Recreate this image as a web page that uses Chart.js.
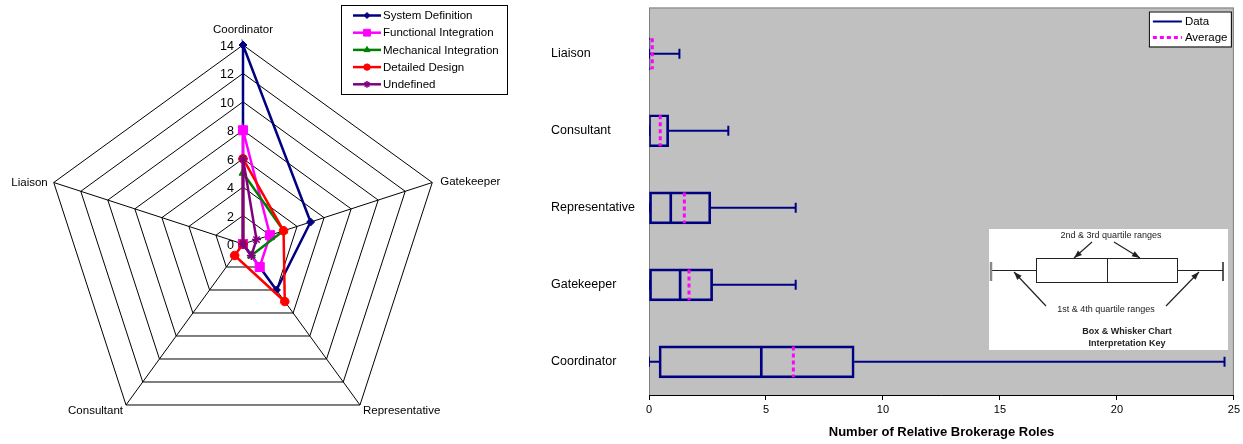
<!DOCTYPE html>
<html>
<head>
<meta charset="utf-8">
<script src="https://cdn.jsdelivr.net/npm/chart.js@4/dist/chart.umd.min.js"></script>
<style>
html, body { margin: 0; padding: 0; background: #fff; }
#wrap { position: relative; width: 1243px; height: 444px; }
#radar { position: absolute; left: 0; top: 0; }
#box { position: absolute; left: 540px; top: 0; }
</style>
</head>
<body>
<div id="wrap">
<canvas id="radar" width="540" height="444"></canvas>
<canvas id="box" width="703" height="444"></canvas>
</div>
<script>
// ---- radar data ----
const axes = ['Coordinator', 'Gatekeeper', 'Representative', 'Consultant', 'Liaison'];
const radarTicks = [0, 2, 4, 6, 8, 10, 12, 14];
const sysDef = [14, 5, 4, 0, 0];
const funcInt = [8, 2, 2, 0, 0];
const mechInt = [5, 3, 1, 0, 0];
const detDesign = [6, 3, 5, 1, 0];
const undef = [6, 1, 1, 0, 0];
const seriesNames = ['System Definition', 'Functional Integration', 'Mechanical Integration', 'Detailed Design', 'Undefined'];

// ---- box plot data (index 0 = bottom row) ----
const roles = ['Coordinator', 'Gatekeeper', 'Representative', 'Consultant', 'Liaison'];
const minVals = [0, 0, 0, 0, 0];
const q1Vals = [0.43, 0, 0, 0, 0];
const medianVals = [4.8, 1.33, 0.93, 0, 0];
const q3Vals = [8.77, 2.72, 2.64, 0.84, 0.05];
const maxVals = [24.6, 6.27, 6.27, 3.39, 1.3];
const avgVals = [6.17, 1.71, 1.51, 0.48, 0.14];
const xTicks = [0, 5, 10, 15, 20, 25];
const xTitle = 'Number of Relative Brokerage Roles';
const boxLegend = ['Data', 'Average'];

const fam = "'Liberation Sans', Arial, sans-serif";
Chart.defaults.font.family = fam;
Chart.defaults.color = '#000';

const navy = '#000080';
const styles = [
  { color: '#000080', pointStyle: 'rectRot', r: 4 },
  { color: '#FF00FF', pointStyle: 'rect', r: 6.4 },
  { color: '#008000', pointStyle: 'triangle', r: 4.6 },
  { color: '#FF0000', pointStyle: 'circle', r: 4.3 },
  { color: '#800080', pointStyle: 'star', r: 4.5 }
];
const series = [sysDef, funcInt, mechInt, detDesign, undef];

function mark(ctx, st, r, x, y) {
  ctx.fillStyle = st.color;
  ctx.strokeStyle = st.color;
  ctx.lineWidth = st.pointStyle === 'star' ? 1.5 : 1;
  Chart.helpers.drawPoint(ctx, { pointStyle: st.pointStyle, radius: r, rotation: 0, borderWidth: 1 }, x, y);
}

const radarText = {
  id: 'radarText',
  afterDraw(chart) {
    const ctx = chart.ctx, s = chart.scales.r;
    ctx.save();
    ctx.fillStyle = '#000';
    ctx.textBaseline = 'middle';
    ctx.font = '12.5px ' + fam;
    ctx.textAlign = 'right';
    radarTicks.forEach(v => {
      ctx.fillText(String(v), s.xCenter - 9, s.yCenter - s.getDistanceFromCenterForValue(v) + 1.5);
    });
    // axis names
    ctx.font = '11.5px ' + fam;
    const place = [
      { dx: 0, dy: -15, al: 'center' },
      { dx: 8, dy: -1, al: 'left' },
      { dx: 3, dy: 6, al: 'left' },
      { dx: -3, dy: 6, al: 'right' },
      { dx: -6, dy: 0, al: 'right' }
    ];
    axes.forEach((name, i) => {
      const p = s.getPointPosition(i, s.drawingArea);
      ctx.textAlign = place[i].al;
      ctx.fillText(name, p.x + place[i].dx, p.y + place[i].dy);
    });
    // legend
    const lx = 341, ly = 5, lw = 166, lh = 89;
    ctx.fillStyle = '#fff';
    ctx.fillRect(lx, ly, lw, lh);
    ctx.strokeStyle = '#000';
    ctx.lineWidth = 1;
    ctx.strokeRect(lx + 0.5, ly + 0.5, lw, lh);
    seriesNames.forEach((name, i) => {
      const y = ly + 10.5 + i * 17.2;
      const st = styles[i];
      ctx.strokeStyle = st.color;
      ctx.lineWidth = 2.5;
      ctx.beginPath();
      ctx.moveTo(lx + 12, y);
      ctx.lineTo(lx + 40, y);
      ctx.stroke();
      mark(ctx, st, st.r * 0.75, lx + 26, y);
      ctx.fillStyle = '#000';
      ctx.textAlign = 'left';
      ctx.fillText(name, lx + 42, y + 0.5);
    });
    ctx.restore();
  }
};

new Chart(document.getElementById('radar'), {
  type: 'radar',
  data: {
    labels: axes,
    datasets: series.map((d, i) => ({
      label: seriesNames[i],
      data: d,
      borderColor: styles[i].color,
      backgroundColor: styles[i].color,
      pointBackgroundColor: styles[i].color,
      pointBorderColor: styles[i].color,
      pointStyle: styles[i].pointStyle,
      pointRadius: styles[i].r,
      pointBorderWidth: i === 4 ? 1.5 : 1,
      borderWidth: 2.5,
      fill: false,
      order: 5 - i
    }))
  },
  options: {
    responsive: false,
    animation: false,
    layout: { padding: { left: 44, top: 45, right: 98, bottom: 1 } },
    plugins: { legend: { display: false }, tooltip: { enabled: false } },
    elements: { line: { tension: 0 } },
    scales: {
      r: {
        min: 0, max: 14,
        ticks: { display: false, stepSize: 2 },
        pointLabels: { display: false },
        grid: { color: '#000', lineWidth: 1 },
        angleLines: { color: '#000', lineWidth: 1 }
      }
    }
  },
  plugins: [radarText]
});

// ---- box plot ----
const lowerBox = roles.map((r, i) => ({ x: [q1Vals[i], medianVals[i]], y: i }));
const upperBox = roles.map((r, i) => ({ x: [medianVals[i], q3Vals[i]], y: i }));
const gap = { x: null, y: null };
const whiskers = [];
const caps = [];
const avgLines = [];
roles.forEach((r, i) => {
  whiskers.push({ x: minVals[i], y: i }, { x: q1Vals[i], y: i }, gap, { x: q3Vals[i], y: i }, { x: maxVals[i], y: i }, gap);
  caps.push({ x: minVals[i], y: i }, { x: maxVals[i], y: i });
  avgLines.push({ x: avgVals[i], y: i + 0.2 }, { x: avgVals[i], y: i - 0.2 }, gap);
});

function arrow(ctx, x1, y1, x2, y2) {
  ctx.beginPath();
  ctx.moveTo(x1, y1);
  ctx.lineTo(x2, y2);
  ctx.stroke();
  const a = Math.atan2(y2 - y1, x2 - x1);
  ctx.beginPath();
  ctx.moveTo(x2, y2);
  ctx.lineTo(x2 - 8 * Math.cos(a) + 3 * Math.sin(a), y2 - 8 * Math.sin(a) - 3 * Math.cos(a));
  ctx.lineTo(x2 - 8 * Math.cos(a) - 3 * Math.sin(a), y2 - 8 * Math.sin(a) + 3 * Math.cos(a));
  ctx.closePath();
  ctx.fill();
}

const boxDeco = {
  id: 'boxDeco',
  beforeDraw(chart) {
    const { ctx, chartArea: a } = chart;
    ctx.save();
    ctx.fillStyle = '#C0C0C0';
    ctx.fillRect(a.left, a.top, a.right - a.left, a.bottom - a.top);
    ctx.strokeStyle = '#808080';
    ctx.lineWidth = 1;
    ctx.strokeRect(a.left + 0.5, a.top + 0.5, a.right - a.left - 1, a.bottom - a.top);
    ctx.restore();
  },
  afterDraw(chart) {
    const { ctx, chartArea: a } = chart;
    ctx.save();
    // legend
    const R = a.right - 3, L = R - 82, T = a.top + 4;
    ctx.fillStyle = '#fff';
    ctx.fillRect(L, T, 82, 35);
    ctx.strokeStyle = '#000';
    ctx.lineWidth = 1;
    ctx.strokeRect(L + 0.5, T + 0.5, 82, 35);
    ctx.strokeStyle = navy;
    ctx.lineWidth = 2;
    ctx.beginPath(); ctx.moveTo(L + 4, T + 10); ctx.lineTo(L + 33, T + 10); ctx.stroke();
    ctx.strokeStyle = '#FF00FF';
    ctx.lineWidth = 3;
    ctx.setLineDash([4, 3]);
    ctx.beginPath(); ctx.moveTo(L + 4, T + 26); ctx.lineTo(L + 33, T + 26); ctx.stroke();
    ctx.setLineDash([]);
    ctx.fillStyle = '#000';
    ctx.font = '11.5px ' + fam;
    ctx.textAlign = 'left';
    ctx.textBaseline = 'middle';
    ctx.fillText(boxLegend[0], L + 36, T + 10);
    ctx.fillText(boxLegend[1], L + 36, T + 26);

    // interpretation key
    const kx = 449, ky = 229;
    ctx.translate(kx, ky);
    ctx.fillStyle = '#fff';
    ctx.fillRect(0, 0, 239, 121);
    ctx.fillStyle = '#222';
    ctx.strokeStyle = '#222';
    ctx.textAlign = 'center';
    ctx.font = '9px ' + fam;
    ctx.fillText('2nd & 3rd quartile ranges', 122, 7);
    ctx.fillText('1st & 4th quartile ranges', 117, 81);
    ctx.font = 'bold 9px ' + fam;
    ctx.fillText('Box & Whisker Chart', 138, 103);
    ctx.fillText('Interpretation Key', 138, 115);
    ctx.lineWidth = 1;
    ctx.beginPath();
    ctx.moveTo(1, 41.5); ctx.lineTo(47, 41.5);
    ctx.moveTo(188, 41.5); ctx.lineTo(234, 41.5);
    ctx.stroke();
    ctx.strokeRect(47.5, 29.5, 141, 24);
    ctx.beginPath(); ctx.moveTo(118.5, 29.5); ctx.lineTo(118.5, 53.5); ctx.stroke();
    ctx.lineWidth = 2.5;
    ctx.strokeStyle = '#888';
    ctx.beginPath(); ctx.moveTo(2, 33); ctx.lineTo(2, 52); ctx.stroke();
    ctx.strokeStyle = '#222';
    ctx.lineWidth = 1.5;
    ctx.beginPath(); ctx.moveTo(234, 33); ctx.lineTo(234, 52); ctx.stroke();
    ctx.lineWidth = 1.2;
    arrow(ctx, 103, 13, 85, 29);
    arrow(ctx, 125, 13, 151, 29);
    arrow(ctx, 57, 77, 25, 43);
    arrow(ctx, 177, 77, 210, 43);
    ctx.restore();
  }
};

new Chart(document.getElementById('box'), {
  type: 'bar',
  data: {
    datasets: [
      { type: 'line', label: 'Average', data: avgLines, borderColor: '#FF00FF', borderWidth: 3, borderDash: [4, 3],
        pointRadius: 0, spanGaps: false, fill: false, order: 0 },
      { type: 'line', label: 'Caps', data: caps, showLine: false, pointStyle: 'line', pointRotation: 90,
        pointRadius: 5, pointBorderWidth: 2, pointBorderColor: navy, pointBackgroundColor: navy, order: 1 },
      { type: 'line', label: 'Whiskers', data: whiskers, borderColor: navy, borderWidth: 2, pointRadius: 0,
        spanGaps: false, fill: false, order: 2 },
      { type: 'bar', label: 'Lower box', indexAxis: 'y', data: lowerBox, backgroundColor: 'rgba(0,0,0,0)',
        borderColor: navy, borderWidth: { top: 2, bottom: 2, left: 2, right: 1 }, borderSkipped: false,
        barThickness: 32, grouped: false, order: 3 },
      { type: 'bar', label: 'Upper box', indexAxis: 'y', data: upperBox, backgroundColor: 'rgba(0,0,0,0)',
        borderColor: navy, borderWidth: { top: 2, bottom: 2, left: 1, right: 2 }, borderSkipped: false,
        barThickness: 32, grouped: false, order: 3 }
    ]
  },
  options: {
    responsive: false,
    animation: false,
    layout: { padding: { left: 11, top: 5, right: 9, bottom: 0 } },
    plugins: { legend: { display: false }, tooltip: { enabled: false } },
    scales: {
      x: {
        type: 'linear', min: 0, max: 25, offset: false,
        afterBuildTicks: s => { s.ticks = xTicks.map(v => ({ value: v })); },
        ticks: { color: '#000', font: { size: 11 }, padding: 3, maxRotation: 0 },
        grid: { display: true, drawOnChartArea: false, drawTicks: true, tickLength: 5, color: '#000', offset: false },
        border: { display: true, color: '#000', width: 1 },
        title: { display: true, text: xTitle, color: '#000', font: { size: 13, weight: 'bold' }, padding: { top: 4, bottom: 4 } },
        afterFit: s => { s.height = 49; }
      },
      y: {
        type: 'linear', min: -0.43, max: 4.6, offset: false,
        afterBuildTicks: s => { s.ticks = roles.map((r, i) => ({ value: i })); },
        ticks: { color: '#000', font: { size: 12.5 }, crossAlign: 'far', padding: 0, autoSkip: false,
          callback: v => roles[v] },
        grid: { display: false, offset: false },
        border: { display: false },
        afterFit: s => { s.width = 98; }
      }
    }
  },
  plugins: [boxDeco]
});
</script>
</body>
</html>
